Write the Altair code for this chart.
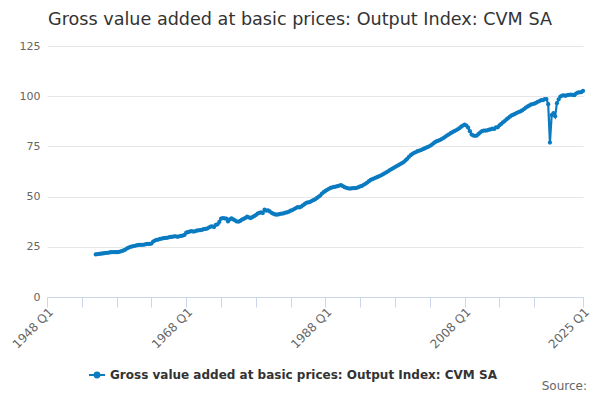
import altair as alt
import pandas as pd

TITLE = "Gross value added at basic prices: Output Index: CVM SA"
SERIES = "Gross value added at basic prices: Output Index: CVM SA"
first_year = 1955

gva_index = [
    21.2, 21.4, 21.5, 21.6,   # 1955
    21.7, 21.9, 22.0, 22.0,   # 1956
    22.2, 22.3, 22.4, 22.3,   # 1957
    22.3, 22.4, 22.6, 22.9,   # 1958
    23.2, 23.6, 24.2, 24.6,   # 1959
    25.0, 25.2, 25.4, 25.6,   # 1960
    25.8, 26.0, 26.0, 26.0,   # 1961
    26.1, 26.3, 26.4, 26.4,   # 1962
    26.6, 27.6, 28.1, 28.4,   # 1963
    28.6, 28.9, 29.1, 29.3,   # 1964
    29.4, 29.5, 29.7, 29.9,   # 1965
    30.0, 30.2, 30.2, 30.0,   # 1966
    30.2, 30.4, 30.6, 30.9,   # 1967
    32.0, 32.3, 32.6, 32.8,   # 1968
    32.6, 32.7, 33.0, 33.2,   # 1969
    33.3, 33.4, 33.8, 33.9,   # 1970
    34.1, 34.6, 35.0, 35.2,   # 1971
    34.8, 35.9, 36.2, 37.4,   # 1972
    39.0, 39.3, 39.2, 39.0,   # 1973
    37.6, 38.6, 39.1, 38.6,   # 1974
    38.2, 37.6, 37.5, 37.9,   # 1975
    38.5, 38.9, 39.4, 40.0,   # 1976
    39.6, 39.3, 39.8, 40.3,   # 1977
    40.8, 41.5, 41.9, 42.1,   # 1978
    41.8, 43.5, 43.0, 43.2,   # 1979
    42.6, 41.9, 41.5, 41.1,   # 1980
    41.0, 41.1, 41.4, 41.5,   # 1981
    41.7, 42.0, 42.2, 42.5,   # 1982
    43.0, 43.3, 43.8, 44.3,   # 1983
    44.7, 44.6, 45.0, 45.6,   # 1984
    46.2, 46.9, 47.1, 47.3,   # 1985
    47.8, 48.2, 48.6, 49.2,   # 1986
    49.9, 50.5, 51.5, 52.2,   # 1987
    52.8, 53.4, 53.9, 54.3,   # 1988
    54.6, 54.8, 55.0, 55.2,   # 1989
    55.5, 55.7, 55.2, 54.7,   # 1990
    54.4, 54.1, 54.0, 54.1,   # 1991
    54.2, 54.2, 54.4, 54.7,   # 1992
    55.1, 55.4, 55.9, 56.4,   # 1993
    57.0, 57.7, 58.3, 58.7,   # 1994
    59.1, 59.4, 59.8, 60.2,   # 1995
    60.6, 61.1, 61.6, 62.1,   # 1996
    62.6, 63.2, 63.7, 64.2,   # 1997
    64.7, 65.2, 65.7, 66.2,   # 1998
    66.7, 67.2, 68.0, 68.8,   # 1999
    69.8, 70.6, 71.3, 71.8,   # 2000
    72.2, 72.6, 72.9, 73.2,   # 2001
    73.6, 74.0, 74.4, 74.8,   # 2002
    75.2, 75.8, 76.5, 77.1,   # 2003
    77.6, 77.9, 78.3, 78.8,   # 2004
    79.3, 79.9, 80.5, 81.0,   # 2005
    81.6, 82.1, 82.6, 83.0,   # 2006
    83.5, 84.1, 84.8, 85.4,   # 2007
    85.8, 85.4, 84.3, 82.6,   # 2008
    80.9, 80.4, 80.3, 80.4,   # 2009
    81.2, 82.0, 82.6, 82.9,   # 2010
    82.9, 83.0, 83.3, 83.5,   # 2011
    83.8, 83.7, 84.5, 84.5,   # 2012
    85.5, 86.2, 87.0, 87.6,   # 2013
    88.4, 89.1, 89.8, 90.4,   # 2014
    90.8, 91.2, 91.7, 92.1,   # 2015
    92.4, 92.9, 93.5, 94.2,   # 2016
    94.8, 95.3, 95.8, 96.1,   # 2017
    96.3, 96.7, 97.2, 97.6,   # 2018
    98.1, 98.0, 98.5, 98.6,   # 2019
    96.0, 76.9, 90.6, 91.6,   # 2020
    90.0, 96.5, 98.4, 99.8,   # 2021
    100.3, 100.4, 100.2, 100.5,  # 2022
    100.7, 100.8, 100.6, 100.5,  # 2023
    101.3, 101.8, 101.9, 102.0,  # 2024
    102.6,                    # 2025
]

x_tick_years = [1948, 1953, 1958, 1963, 1968, 1973, 1978, 1983, 1988,
                1993, 1998, 2003, 2008, 2013, 2018, 2025]
x_label_years = [1948, 1968, 1988, 2008, 2025]
y_ticks = [0, 25, 50, 75, 100, 125]

quarters = []
for i in range(len(gva_index)):
    yr = first_year + i // 4
    q = i % 4 + 1
    quarters.append({"t": yr + (q - 1) / 4.0, "period": f"{yr} Q{q}"})

df = pd.DataFrame(quarters)
df["value"] = gva_index
df["series"] = SERIES

LINE = "#0a7bc1"
FONT = "DejaVu Sans"

label_test = " || ".join(f"datum.value == {y}" for y in x_label_years)

legend_path = ("M-1,0L1,0M-0.3,0a0.3,0.3 0 1,0 0.6,0a0.3,0.3 0 1,0 -0.6,0")

line = alt.Chart(df).mark_line(
    strokeWidth=2.2,
    point=alt.OverlayMarkDef(size=18, filled=True, color=LINE),
).encode(
    x=alt.X("t:Q",
            scale=alt.Scale(domain=[1948, 2025], nice=False, zero=False),
            axis=alt.Axis(values=x_tick_years, title=None, grid=False,
                          labelExpr=f"({label_test}) ? datum.value + ' Q1' : ''",
                          labelAngle=-45, labelFontSize=12, labelColor="#666666",
                          labelFont=FONT, domainColor="#ccd6eb", tickColor="#ccd6eb",
                          tickSize=10, labelPadding=-1, labelOffset=0,
                          labelOverlap=False, labelFlush=False)),
    y=alt.Y("value:Q",
            scale=alt.Scale(domain=[0, 125], nice=False),
            axis=alt.Axis(values=y_ticks, title=None, grid=True, gridColor="#e6e6e6",
                          domain=False, ticks=False, labelPadding=7,
                          labelFontSize=11, labelColor="#666666", labelFont=FONT)),
    color=alt.Color("series:N",
                    scale=alt.Scale(range=[LINE]),
                    legend=alt.Legend(title=None, orient="none", legendX=41, legendY=320,
                                      symbolType=legend_path, symbolSize=256,
                                      symbolStrokeWidth=2, symbolFillColor=LINE,
                                      symbolStrokeColor=LINE, labelFont=FONT,
                                      labelFontSize=12, labelFontWeight="bold",
                                      labelColor="#333333", labelOffset=4, padding=0,
                                      labelLimit=600)),
    tooltip=["period:N", "value:Q"],
)

source = alt.Chart(pd.DataFrame({"label": ["Source:"]})).mark_text(
    align="right", baseline="middle", fontSize=12,
    font=FONT, color="#666666",
).encode(text="label:N", x=alt.value(540), y=alt.value(340))

chart = alt.layer(line, source).properties(
    width=536, height=251,
    title=alt.TitleParams(TITLE, font=FONT, fontSize=17.6, fontWeight="normal",
                          color="#333333", anchor="middle", dx=-15, offset=11),
    autosize=alt.AutoSizeParams(type="none"),
    padding={"left": 39, "top": 38, "right": 9, "bottom": 95},
).configure_view(stroke=None)

chart.save("out.html", embed_options={"renderer": "svg", "actions": False})
